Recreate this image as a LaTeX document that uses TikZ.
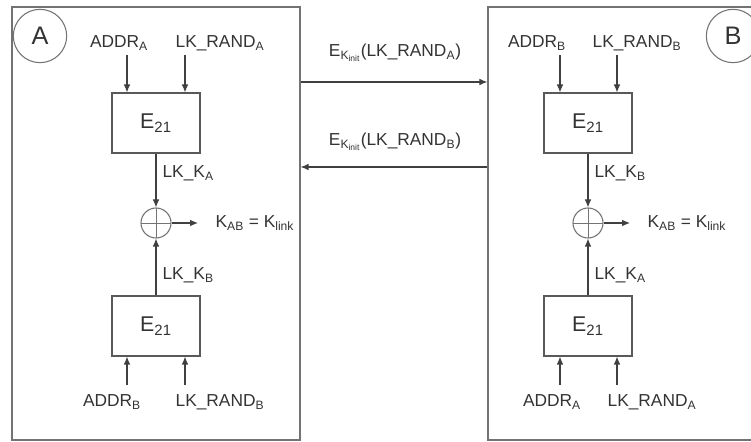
\documentclass[tikz,border=0pt]{standalone}
\usepackage{fontspec}
\setmainfont{Liberation Sans}
\usetikzlibrary{arrows.meta}
\newcommand\sbs[1]{\textsubscript{#1}}
\tikzset{
  outer/.style={draw=black!55, line width=0.9pt, minimum width=#1, inner sep=0pt},
  ebox/.style={draw=black!65, line width=0.8pt, minimum width=66pt, minimum height=45pt, inner sep=0pt, font=\fontsize{16}{18}\selectfont, text=black!80},
  lbl/.style={font=\fontsize{13}{15}\selectfont, text=black!80, inner sep=1pt},
  big/.style={circle, draw=black!55, line width=0.8pt, minimum size=40pt, font=\fontsize{19}{21}\selectfont, text=black!80},
  xor/.style={circle, draw=black!55, line width=0.8pt, minimum size=22.5pt, inner sep=0pt,
    path picture={\draw[black!55, line width=0.7pt] (path picture bounding box.north) -- (path picture bounding box.south)
      (path picture bounding box.west) -- (path picture bounding box.east);}},
  arr/.style={draw=black!75, line width=0.8pt, -{Latex[length=6pt,width=5pt]}},
}
\begin{document}
\begin{tikzpicture}[x=0.75pt,y=-0.75pt]
\useasboundingbox (0,0) rectangle (751,442);
% outer boxes
\node[outer=216pt, minimum height=324.75pt] (boxA) at (156,223.5) {};
\node[outer=207.75pt, minimum height=324.75pt] (boxB) at (626.5,223.5) {};
\node[big] (cA) at (40,36) {A};
\node[big] (cB) at (733,36) {B};

% ---------- side A ----------
\node[ebox] (ea) at (156,123) {E\sbs{21}};
\node[ebox] (eb) at (156,326) {E\sbs{21}};
\node[xor] (xa) at (156,223) {};
\node[lbl] (ta1) at (119,43) {ADDR\sbs{A}};
\node[lbl] (ta2) at (220,43) {LK\_RAND\sbs{A}};
\coordinate (ia1) at (127,55);
\coordinate (ia2) at (185,55);
\draw[arr] (ia1) -- (ia1 |- ea.north);
\draw[arr] (ia2) -- (ia2 |- ea.north);
\draw[arr] (ea.south) -- (xa.north);
\node[lbl, anchor=west] (ka) at (161,173) {LK\_K\sbs{A}};
\draw[arr] (eb.north) -- (xa.south);
\node[lbl, anchor=west] (kb) at (161,275) {LK\_K\sbs{B}};
\coordinate (oa) at (198,223);
\draw[arr] (xa.east) -- (oa);
\node[lbl, anchor=west] (kla) at (214,223) {K\sbs{AB} = K\sbs{link}};
\node[lbl] (ba1) at (112,402) {ADDR\sbs{B}};
\node[lbl] (ba2) at (220,402) {LK\_RAND\sbs{B}};
\coordinate (ib1) at (127,385);
\coordinate (ib2) at (185,385);
\draw[arr] (ib1) -- (ib1 |- eb.south);
\draw[arr] (ib2) -- (ib2 |- eb.south);

% ---------- side B ----------
\node[ebox] (fa) at (588,123) {E\sbs{21}};
\node[ebox] (fb) at (588,326) {E\sbs{21}};
\node[xor] (xb) at (588,223) {};
\node[lbl] (tb1) at (537,43) {ADDR\sbs{B}};
\node[lbl] (tb2) at (637,43) {LK\_RAND\sbs{B}};
\coordinate (ja1) at (560,55);
\coordinate (ja2) at (617,55);
\draw[arr] (ja1) -- (ja1 |- fa.north);
\draw[arr] (ja2) -- (ja2 |- fa.north);
\draw[arr] (fa.south) -- (xb.north);
\node[lbl, anchor=west] (kc) at (593,173) {LK\_K\sbs{B}};
\draw[arr] (fb.north) -- (xb.south);
\node[lbl, anchor=west] (kd) at (593,275) {LK\_K\sbs{A}};
\coordinate (ob) at (630,223);
\draw[arr] (xb.east) -- (ob);
\node[lbl, anchor=west] (klb) at (646,223) {K\sbs{AB} = K\sbs{link}};
\node[lbl] (bb1) at (552,402) {ADDR\sbs{A}};
\node[lbl] (bb2) at (652,402) {LK\_RAND\sbs{A}};
\coordinate (jb1) at (560,385);
\coordinate (jb2) at (617,385);
\draw[arr] (jb1) -- (jb1 |- fb.south);
\draw[arr] (jb2) -- (jb2 |- fb.south);

% ---------- exchange ----------
\coordinate (m1) at (0,82);
\coordinate (m2) at (0,167);
\draw[arr] (boxA.east |- m1) -- (boxB.west |- m1);
\draw[arr] (boxB.west |- m2) -- (boxA.east |- m2);
\node[lbl] (xl1) at (395,53) {E\sbs{K\sbs{init}}(LK\_RAND\sbs{A})};
\node[lbl] (xl2) at (395,142) {E\sbs{K\sbs{init}}(LK\_RAND\sbs{B})};
\end{tikzpicture}
\end{document}
